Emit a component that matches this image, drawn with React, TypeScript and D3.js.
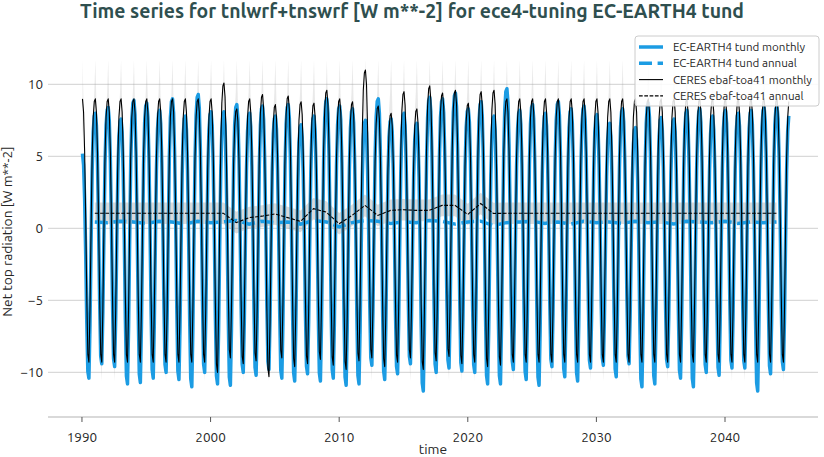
import React from 'react';
import * as d3 from 'd3';

// ---------- data ----------
const years = d3.range(1990, 2045); // monthly data Jan 1990 .. Dec 2044
// normalised seasonal shape (0 = July trough, 1 = January peak)
const seasonFall = [1.0, 0.95, 0.8, 0.55, 0.25, 0.03]; // Jan..Jun
const seasonRise = [0.0, 0.2, 0.5, 0.78, 0.93, 0.99]; // Jul..Dec

// EC-EARTH4 monthly: January maxima (1990..2045) and July minima (1990..2044)
const modelPeaks = [
  5.2, 8.0, 8.4, 7.6, 8.9, 8.7, 8.2, 9.0, 7.8, 9.3,
  8.1, 8.1, 8.6, 8.0, 8.5, 7.8, 8.6, 7.2, 7.8, 9.0,
  8.5, 8.3, 7.5, 9.0, 7.6, 8.0, 7.3, 9.1, 9.0, 9.4,
  8.3, 8.8, 7.8, 9.7, 8.2, 8.6, 8.0, 8.8, 8.3, 8.5,
  7.9, 7.3, 8.3, 7.0, 8.7, 7.7, 7.6, 8.2, 8.3, 7.8,
  8.2, 8.0, 8.2, 8.4, 8.5, 8.0,
];
const modelTroughs = [
  -10.4, -9.4, -9.6, -10.8, -10.7, -10.4, -10.0, -10.5, -11.0, -10.0,
  -10.8, -10.9, -10.0, -10.2, -9.8, -10.4, -10.6, -10.1, -10.6, -10.4,
  -10.9, -10.8, -9.5, -10.5, -10.1, -9.4, -11.3, -10.0, -9.7, -9.9,
  -10.0, -10.8, -10.8, -9.8, -10.5, -10.9, -9.6, -10.3, -10.6, -9.7,
  -9.5, -10.3, -9.4, -11.0, -10.8, -9.6, -10.4, -11.0, -10.0, -10.2,
  -9.7, -9.7, -11.3, -10.1, -9.8,
];

// CERES ebaf-toa41 monthly: January maxima (1990..2045) and July minima (1990..2044)
const ceresPeaks = [
  9.0, 9.0, 9.0, 9.0, 9.0, 9.0, 9.0, 9.0, 9.0, 9.0,
  9.0, 10.1, 8.3, 9.0, 9.3, 8.6, 9.2, 8.8, 8.7, 9.6,
  9.0, 8.8, 11.0, 8.5, 8.0, 9.5, 8.3, 9.9, 9.4, 9.6,
  8.7, 9.5, 9.6, 9.0, 9.0, 9.0, 9.0, 9.0, 9.0, 9.0,
  9.0, 9.0, 9.0, 9.0, 9.0, 9.0, 9.0, 9.0, 9.0, 9.0,
  9.0, 9.0, 9.0, 9.0, 9.0, 9.0,
];
const ceresTroughs = [
  -9.3, -9.3, -9.3, -9.3, -9.3, -9.3, -9.3, -9.3, -9.3, -9.3,
  -10.0, -9.0, -9.4, -9.2, -10.3, -9.0, -9.6, -9.4, -9.1, -9.5,
  -9.8, -9.2, -9.0, -9.6, -9.3, -9.0, -9.8, -9.2, -8.9, -9.4,
  -9.3, -9.6, -9.5, -9.3, -9.3, -9.3, -9.3, -9.3, -9.3, -9.3,
  -9.3, -9.3, -9.3, -9.3, -9.3, -9.3, -9.3, -9.3, -9.3, -9.3,
  -9.3, -9.3, -9.3, -9.3, -9.3,
];
const ceresClimPeak = 9.0;
const ceresClimTrough = -9.3;
// monthly spread of CERES climatology (Jan..Dec)
const ceresSpread = [2.7, 0.6, 0.3, 0.3, 0.3, 0.6, 1.3, 0.6, 0.3, 0.3, 0.3, 0.6];

// annual means, plotted at the start of the following year (1991..2044)
const annualYears = d3.range(1991, 2045);
const modelAnnual = [
  0.45, 0.4, 0.5, 0.45, 0.35, 0.5, 0.45, 0.3, 0.5, 0.4,
  0.45, 0.55, 0.3, 0.5, 0.4, 0.45, 0.3, 0.55, 0.45, 0.1,
  0.4, 0.55, 0.5, 0.35, 0.45, 0.4, 0.55, 0.5, 0.3, 0.45,
  0.5, 0.2, 0.4, 0.45, 0.5, 0.35, 0.45, 0.3, 0.5, 0.4,
  0.45, 0.35, 0.5, 0.4, 0.45, 0.3, 0.5, 0.45, 0.4, 0.5,
  0.35, 0.45, 0.4, 0.45,
];
const ceresAnnual = [
  1.05, 1.05, 1.05, 1.05, 1.05, 1.05, 1.05, 1.05, 1.05, 1.05,
  1.05, 0.4, 0.75, 0.85, 1.0, 0.75, 0.49, 1.37, 1.13, 0.32,
  0.9, 1.6, 0.9, 1.25, 1.3, 1.25, 1.25, 1.6, 1.6, 0.97,
  1.73, 1.04, 1.05, 1.05, 1.05, 1.05, 1.05, 1.05, 1.05, 1.05,
  1.05, 1.05, 1.05, 1.05, 1.05, 1.05, 1.05, 1.05, 1.05, 1.05,
  1.05, 1.05, 1.05, 1.05,
];
const ceresAnnualSpread = 0.75;

const xTicks = [1990, 2000, 2010, 2020, 2030, 2040];
const yTicks = [-10, -5, 0, 5, 10];

const BLUE = '#1c9ce3';
const legendItems = [
  { label: 'EC-EARTH4 tund monthly', color: BLUE, width: 3.5, dash: '' },
  { label: 'EC-EARTH4 tund annual', color: BLUE, width: 3.5, dash: '13,5.6' },
  { label: 'CERES ebaf-toa41 monthly', color: '#000', width: 1.1, dash: '' },
  { label: 'CERES ebaf-toa41 annual', color: '#000', width: 1.1, dash: '3.7,1.6' },
];

type P = { t: number; v: number };

function buildMonthly(peaks: number[], troughs: number[]): P[] {
  const out: P[] = [];
  years.forEach((y, i) => {
    for (let m = 0; m < 12; m++) {
      const tr = troughs[i];
      const pk = m < 6 ? peaks[i] : peaks[i + 1];
      const s = m < 6 ? seasonFall[m] : seasonRise[m - 6];
      out.push({ t: y + (m + 0.5) / 12, v: tr + s * (pk - tr) });
    }
  });
  return out;
}

export default function App() {
  const W = 824;
  const H = 457;
  const left = 48, right = 818, top = 46, bottom = 417;
  const x = d3.scaleLinear().domain([1987.36, 2047.23]).range([left, right]);
  const y = d3.scaleLinear().domain([-13.1, 12.67]).range([bottom, top]);

  const model = buildMonthly(modelPeaks, modelTroughs);
  const ceres = buildMonthly(ceresPeaks, ceresTroughs);
  const clim = buildMonthly(
    years.map(() => ceresClimPeak).concat([ceresClimPeak]),
    years.map(() => ceresClimTrough)
  );
  const envelope = clim.map((d, i) => ({ t: d.t, lo: d.v - ceresSpread[i % 12], hi: d.v + ceresSpread[i % 12] }));

  const line = d3.line<P>().x((d) => x(d.t)).y((d) => y(d.v));
  const area = d3
    .area<{ t: number; lo: number; hi: number }>()
    .x((d) => x(d.t))
    .y0((d) => y(d.lo))
    .y1((d) => y(d.hi));

  const modelAnn: P[] = annualYears.map((t, i) => ({ t, v: modelAnnual[i] }));
  const ceresAnn: P[] = annualYears.map((t, i) => ({ t, v: ceresAnnual[i] }));
  const band = ceresAnn.map((d) => ({ t: d.t, lo: d.v - ceresAnnualSpread, hi: d.v + ceresAnnualSpread }));

  const font = 'Ubuntu, "Open Sans", "Noto Sans", sans-serif';
  const txt = '#262626';

  return (
    <svg width={W} height={H} style={{ position: 'absolute', left: 0, top: 0, background: '#fff' }} fontFamily={font}>
      <text x={412} y={18} textAnchor="middle" fontSize={19.4} fontWeight="bold" fill="#2f4f4f">
        Time series for tnlwrf+tnswrf [W m**-2] for ece4-tuning EC-EARTH4 tund
      </text>

      {/* grid */}
      {yTicks.map((t) => (
        <g key={t}>
          <line x1={left} x2={right} y1={y(t)} y2={y(t)} stroke="#d9d9d9" strokeWidth={1.2} />
          <text x={43} y={y(t) + 5} textAnchor="end" fontSize={13.5} fill={txt}>
            {t < 0 ? '\u2212' + Math.abs(t) : t}
          </text>
        </g>
      ))}
      <line x1={left} x2={right} y1={bottom} y2={bottom} stroke="#cccccc" strokeWidth={1.5} />
      {xTicks.map((t) => (
        <g key={t}>
          <line x1={x(t)} x2={x(t)} y1={bottom} y2={bottom + 5} stroke="#555" strokeWidth={1} />
          <text x={x(t)} y={bottom + 25} textAnchor="middle" fontSize={13.5} fill={txt}>
            {t}
          </text>
        </g>
      ))}
      <text x={(left + right) / 2} y={454} textAnchor="middle" fontSize={13.8} fill={txt}>
        time
      </text>
      <text
        transform={`translate(12,${(top + bottom) / 2}) rotate(-90)`}
        textAnchor="middle"
        fontSize={13.8}
        fill={txt}
      >
        Net top radiation [W m**-2]
      </text>

      {/* CERES monthly spread */}
      <path d={area(envelope) || ''} fill="#999" fillOpacity={0.22} stroke="none" />

      {/* model monthly */}
      <path d={line(model) || ''} fill="none" stroke={BLUE} strokeWidth={3.5} strokeLinejoin="round" />
      {/* annual band */}
      <path d={area(band) || ''} fill="#888" fillOpacity={0.3} stroke="none" />
      {/* model annual */}
      <path d={line(modelAnn) || ''} fill="none" stroke={BLUE} strokeWidth={3.5} strokeDasharray="13,5.6" />
      {/* CERES monthly */}
      <path d={line(ceres) || ''} fill="none" stroke="#000" strokeWidth={1.1} strokeLinejoin="round" />
      {/* CERES annual */}
      <path d={line(ceresAnn) || ''} fill="none" stroke="#000" strokeWidth={1.1} strokeDasharray="3.7,1.6" />

      {/* legend */}
      <rect x={635} y={36} width={184} height={70} rx={3} fill="#fff" fillOpacity={0.85} stroke="#cccccc" />
      {legendItems.map((d, i) => (
        <g key={d.label}>
          <line
            x1={639}
            x2={663}
            y1={47 + i * 16.3}
            y2={47 + i * 16.3}
            stroke={d.color}
            strokeWidth={d.width}
            strokeDasharray={d.dash}
          />
          <text x={673} y={51 + i * 16.3} fontSize={11.6} fill={txt}>
            {d.label}
          </text>
        </g>
      ))}
    </svg>
  );
}
